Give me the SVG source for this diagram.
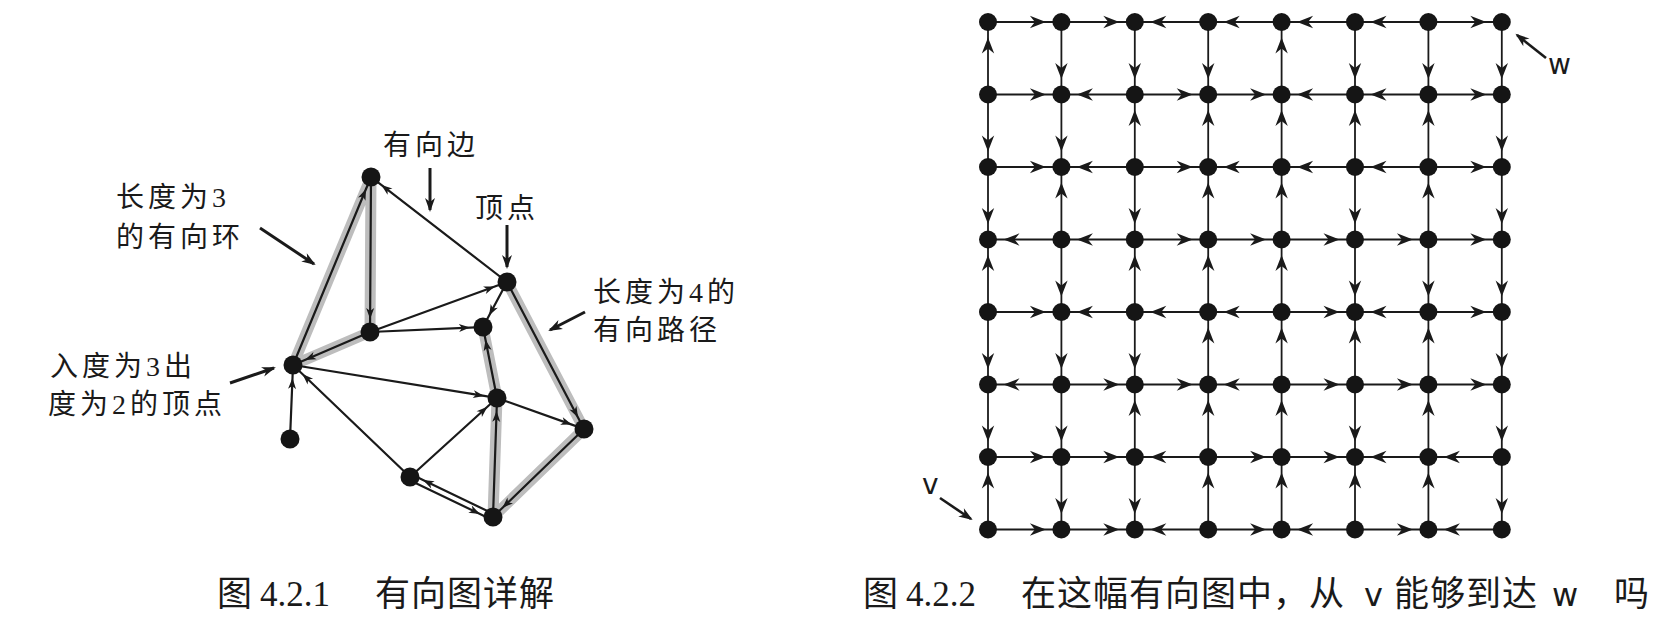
<svg xmlns="http://www.w3.org/2000/svg" width="1668" height="642" viewBox="0 0 1668 642">
<defs>
<marker id="ga" markerUnits="userSpaceOnUse" viewBox="-17 -7 18 14" refX="0" refY="0" markerWidth="18" markerHeight="14" orient="auto"><path d="M0,0 L-16,-6.2 L-11,0 L-16,6.2 Z" fill="#1a1a1a"/></marker>
<marker id="la" markerUnits="userSpaceOnUse" viewBox="-12 -5 13 10" refX="0" refY="0" markerWidth="13" markerHeight="10" orient="auto"><path d="M0,0 L-11,-4 L-8,0 L-11,4 Z" fill="#1a1a1a"/></marker>
<marker id="ta" markerUnits="userSpaceOnUse" viewBox="-15 -6 18 12" refX="0" refY="0" markerWidth="18" markerHeight="12" orient="auto"><path d="M2,0 L-12,-5 L-8,0 L-12,5 Z" fill="#1a1a1a"/></marker>
<style>
.ge{fill:none;stroke:#1a1a1a;stroke-width:1.8;marker-mid:url(#ga)}
.le{fill:none;stroke:#1a1a1a;stroke-width:2.2;marker-mid:url(#la)}
.lab{fill:none;stroke:#1a1a1a;stroke-width:3;marker-end:url(#ta)}
.halo{fill:none;stroke:#bdbdbd;stroke-width:11;stroke-linejoin:round;stroke-linecap:round}
.gn{fill:#151515}
.ln{fill:#151515}
.t{font-family:"Liberation Serif","Noto Sans CJK SC",serif;font-size:28px;fill:#1a1a1a;letter-spacing:4px}
.cap{font-size:35px;letter-spacing:1px}
.s{font-family:"DejaVu Sans",sans-serif;font-size:28px;fill:#1a1a1a;letter-spacing:0}
.sc{font-size:32px}
</style>
</defs>
<rect width="1668" height="642" fill="#ffffff"/>

<!-- Left diagram -->
<g id="highlights">
<path class="halo" d="M293,365 L371,177 L370,332 Z"/>
<path class="halo" d="M507,282 L584,429 L493,517 L497,398 L483,327"/>
</g>
<g id="left-connectors">
<path class="le" d="M293,365 L366,189 L371,177"/>
<path class="le" d="M371,177 L370.1,319 L370,332"/>
<path class="le" d="M370,332 L304.9,359.9 L293,365"/>
<path class="le" d="M507,282 L381.3,184.9 L371,177"/>
<path class="le" d="M370,332 L494.8,286.5 L507,282"/>
<path class="le" d="M370,332 L470,327.6 L483,327"/>
<path class="le" d="M507,282 L489.1,315.5 L483,327"/>
<path class="le" d="M507,282 L578,417.5 L584,429"/>
<path class="le" d="M584,429 L502.3,508 L493,517"/>
<path class="le" d="M493,517 L496.6,411 L497,398"/>
<path class="le" d="M497,398 L485.5,339.8 L483,327"/>
<path class="le" d="M293,365 L484.2,395.9 L497,398"/>
<path class="le" d="M497,398 L571.8,424.6 L584,429"/>
<path class="le" d="M410,477 L302.4,374 L293,365"/>
<path class="le" d="M410,477 L487.4,406.7 L497,398"/>
<path class="le" d="M408.7,479.7 L480,514 L491.7,519.7"/>
<path class="le" d="M494.3,514.3 L423,480 L411.3,474.3"/>
<path class="le" d="M290,439 L292.5,378 L293,365"/>
</g>
<g id="n-A"><circle class="ln" cx="371" cy="177" r="9.5"/></g>
<g id="n-B"><circle class="ln" cx="507" cy="282" r="9.5"/></g>
<g id="n-C"><circle class="ln" cx="370" cy="332" r="9.5"/></g>
<g id="n-D"><circle class="ln" cx="483" cy="327" r="9.5"/></g>
<g id="n-E"><circle class="ln" cx="293" cy="365" r="9.5"/></g>
<g id="n-F"><circle class="ln" cx="290" cy="439" r="9.5"/></g>
<g id="n-G"><circle class="ln" cx="497" cy="398" r="9.5"/></g>
<g id="n-H"><circle class="ln" cx="584" cy="429" r="9.5"/></g>
<g id="n-I"><circle class="ln" cx="410" cy="477" r="9.5"/></g>
<g id="n-J"><circle class="ln" cx="493" cy="517" r="9.5"/></g>

<g id="annotations">
<text class="t" x="383" y="155">有向边</text>
<path class="lab" d="M430,168 L430,210"/>
<text class="t" x="475" y="218">顶点</text>
<path class="lab" d="M507,225 L507,267"/>
<text class="t" x="593" y="302">长度为4的</text>
<text class="t" x="593" y="340">有向路径</text>
<path class="lab" d="M585,312 L550,330"/>
<text class="t" x="116" y="207">长度为3</text>
<text class="t" x="116" y="247">的有向环</text>
<path class="lab" d="M260,228 L314,264"/>
<text class="t" x="50" y="376">入度为3出</text>
<text class="t" x="48" y="414">度为2的顶点</text>
<path class="lab" d="M230,383 L274,368"/>
</g>

<!-- Right grid -->
<g id="grid-connectors">
<path class="ge" d="M988,22h57.9h15.5"/>
<path class="ge" d="M1061.4,22h57.9h15.5"/>
<path class="ge" d="M1208.2,22h-57.9h-15.5"/>
<path class="ge" d="M1281.6,22h-57.9h-15.5"/>
<path class="ge" d="M1355,22h-57.9h-15.5"/>
<path class="ge" d="M1428.4,22h-57.9h-15.5"/>
<path class="ge" d="M1428.4,22h57.9h15.5"/>

<path class="ge" d="M988,94.5h57.9h15.5"/>
<path class="ge" d="M1134.8,94.5h-57.9h-15.5"/>
<path class="ge" d="M1134.8,94.5h57.9h15.5"/>
<path class="ge" d="M1208.2,94.5h57.9h15.5"/>
<path class="ge" d="M1355,94.5h-57.9h-15.5"/>
<path class="ge" d="M1428.4,94.5h-57.9h-15.5"/>
<path class="ge" d="M1428.4,94.5h57.9h15.5"/>

<path class="ge" d="M988,167h57.9h15.5"/>
<path class="ge" d="M1134.8,167h-57.9h-15.5"/>
<path class="ge" d="M1134.8,167h57.9h15.5"/>
<path class="ge" d="M1281.6,167h-57.9h-15.5"/>
<path class="ge" d="M1355,167h-57.9h-15.5"/>
<path class="ge" d="M1428.4,167h-57.9h-15.5"/>
<path class="ge" d="M1428.4,167h57.9h15.5"/>

<path class="ge" d="M1061.4,239.5h-57.9h-15.5"/>
<path class="ge" d="M1134.8,239.5h-57.9h-15.5"/>
<path class="ge" d="M1134.8,239.5h57.9h15.5"/>
<path class="ge" d="M1208.2,239.5h57.9h15.5"/>
<path class="ge" d="M1281.6,239.5h57.9h15.5"/>
<path class="ge" d="M1355,239.5h57.9h15.5"/>
<path class="ge" d="M1428.4,239.5h57.9h15.5"/>

<path class="ge" d="M988,312h57.9h15.5"/>
<path class="ge" d="M1134.8,312h-57.9h-15.5"/>
<path class="ge" d="M1208.2,312h-57.9h-15.5"/>
<path class="ge" d="M1281.6,312h-57.9h-15.5"/>
<path class="ge" d="M1281.6,312h57.9h15.5"/>
<path class="ge" d="M1428.4,312h-57.9h-15.5"/>
<path class="ge" d="M1428.4,312h57.9h15.5"/>

<path class="ge" d="M1061.4,384.5h-57.9h-15.5"/>
<path class="ge" d="M1061.4,384.5h57.9h15.5"/>
<path class="ge" d="M1134.8,384.5h57.9h15.5"/>
<path class="ge" d="M1281.6,384.5h-57.9h-15.5"/>
<path class="ge" d="M1281.6,384.5h57.9h15.5"/>
<path class="ge" d="M1355,384.5h57.9h15.5"/>
<path class="ge" d="M1428.4,384.5h57.9h15.5"/>

<path class="ge" d="M988,457h57.9h15.5"/>
<path class="ge" d="M1061.4,457h57.9h15.5"/>
<path class="ge" d="M1208.2,457h-57.9h-15.5"/>
<path class="ge" d="M1208.2,457h57.9h15.5"/>
<path class="ge" d="M1281.6,457h57.9h15.5"/>
<path class="ge" d="M1428.4,457h-57.9h-15.5"/>
<path class="ge" d="M1501.8,457h-57.9h-15.5"/>

<path class="ge" d="M988,529.5h57.9h15.5"/>
<path class="ge" d="M1061.4,529.5h57.9h15.5"/>
<path class="ge" d="M1208.2,529.5h-57.9h-15.5"/>
<path class="ge" d="M1208.2,529.5h57.9h15.5"/>
<path class="ge" d="M1355,529.5h-57.9h-15.5"/>
<path class="ge" d="M1355,529.5h57.9h15.5"/>
<path class="ge" d="M1501.8,529.5h-57.9h-15.5"/>

<path class="ge" d="M988,94.5v-57v-15.5"/>
<path class="ge" d="M988,94.5v57v15.5"/>
<path class="ge" d="M988,167v57v15.5"/>
<path class="ge" d="M988,312v-57v-15.5"/>
<path class="ge" d="M988,312v57v15.5"/>
<path class="ge" d="M988,384.5v57v15.5"/>
<path class="ge" d="M988,529.5v-57v-15.5"/>

<path class="ge" d="M1061.4,22v57v15.5"/>
<path class="ge" d="M1061.4,94.5v57v15.5"/>
<path class="ge" d="M1061.4,239.5v-57v-15.5"/>
<path class="ge" d="M1061.4,239.5v57v15.5"/>
<path class="ge" d="M1061.4,312v57v15.5"/>
<path class="ge" d="M1061.4,384.5v57v15.5"/>
<path class="ge" d="M1061.4,457v57v15.5"/>

<path class="ge" d="M1134.8,22v57v15.5"/>
<path class="ge" d="M1134.8,167v-57v-15.5"/>
<path class="ge" d="M1134.8,167v57v15.5"/>
<path class="ge" d="M1134.8,312v-57v-15.5"/>
<path class="ge" d="M1134.8,312v57v15.5"/>
<path class="ge" d="M1134.8,457v-57v-15.5"/>
<path class="ge" d="M1134.8,457v57v15.5"/>

<path class="ge" d="M1208.2,22v57v15.5"/>
<path class="ge" d="M1208.2,167v-57v-15.5"/>
<path class="ge" d="M1208.2,239.5v-57v-15.5"/>
<path class="ge" d="M1208.2,312v-57v-15.5"/>
<path class="ge" d="M1208.2,384.5v-57v-15.5"/>
<path class="ge" d="M1208.2,457v-57v-15.5"/>
<path class="ge" d="M1208.2,529.5v-57v-15.5"/>

<path class="ge" d="M1281.6,94.5v-57v-15.5"/>
<path class="ge" d="M1281.6,167v-57v-15.5"/>
<path class="ge" d="M1281.6,239.5v-57v-15.5"/>
<path class="ge" d="M1281.6,312v-57v-15.5"/>
<path class="ge" d="M1281.6,384.5v-57v-15.5"/>
<path class="ge" d="M1281.6,457v-57v-15.5"/>
<path class="ge" d="M1281.6,529.5v-57v-15.5"/>

<path class="ge" d="M1355,22v57v15.5"/>
<path class="ge" d="M1355,167v-57v-15.5"/>
<path class="ge" d="M1355,167v57v15.5"/>
<path class="ge" d="M1355,239.5v57v15.5"/>
<path class="ge" d="M1355,384.5v-57v-15.5"/>
<path class="ge" d="M1355,384.5v57v15.5"/>
<path class="ge" d="M1355,529.5v-57v-15.5"/>

<path class="ge" d="M1428.4,22v57v15.5"/>
<path class="ge" d="M1428.4,167v-57v-15.5"/>
<path class="ge" d="M1428.4,239.5v-57v-15.5"/>
<path class="ge" d="M1428.4,239.5v57v15.5"/>
<path class="ge" d="M1428.4,384.5v-57v-15.5"/>
<path class="ge" d="M1428.4,457v-57v-15.5"/>
<path class="ge" d="M1428.4,529.5v-57v-15.5"/>

<path class="ge" d="M1501.8,22v57v15.5"/>
<path class="ge" d="M1501.8,94.5v57v15.5"/>
<path class="ge" d="M1501.8,167v57v15.5"/>
<path class="ge" d="M1501.8,239.5v57v15.5"/>
<path class="ge" d="M1501.8,312v57v15.5"/>
<path class="ge" d="M1501.8,384.5v57v15.5"/>
<path class="ge" d="M1501.8,457v57v15.5"/>
</g>

<g id="g-r0c0"><circle class="gn" cx="988" cy="22" r="9"/></g>
<g id="g-r0c1"><circle class="gn" cx="1061.4" cy="22" r="9"/></g>
<g id="g-r0c2"><circle class="gn" cx="1134.8" cy="22" r="9"/></g>
<g id="g-r0c3"><circle class="gn" cx="1208.2" cy="22" r="9"/></g>
<g id="g-r0c4"><circle class="gn" cx="1281.6" cy="22" r="9"/></g>
<g id="g-r0c5"><circle class="gn" cx="1355" cy="22" r="9"/></g>
<g id="g-r0c6"><circle class="gn" cx="1428.4" cy="22" r="9"/></g>
<g id="g-r0c7"><circle class="gn" cx="1501.8" cy="22" r="9"/></g>
<g id="g-r1c0"><circle class="gn" cx="988" cy="94.5" r="9"/></g>
<g id="g-r1c1"><circle class="gn" cx="1061.4" cy="94.5" r="9"/></g>
<g id="g-r1c2"><circle class="gn" cx="1134.8" cy="94.5" r="9"/></g>
<g id="g-r1c3"><circle class="gn" cx="1208.2" cy="94.5" r="9"/></g>
<g id="g-r1c4"><circle class="gn" cx="1281.6" cy="94.5" r="9"/></g>
<g id="g-r1c5"><circle class="gn" cx="1355" cy="94.5" r="9"/></g>
<g id="g-r1c6"><circle class="gn" cx="1428.4" cy="94.5" r="9"/></g>
<g id="g-r1c7"><circle class="gn" cx="1501.8" cy="94.5" r="9"/></g>
<g id="g-r2c0"><circle class="gn" cx="988" cy="167" r="9"/></g>
<g id="g-r2c1"><circle class="gn" cx="1061.4" cy="167" r="9"/></g>
<g id="g-r2c2"><circle class="gn" cx="1134.8" cy="167" r="9"/></g>
<g id="g-r2c3"><circle class="gn" cx="1208.2" cy="167" r="9"/></g>
<g id="g-r2c4"><circle class="gn" cx="1281.6" cy="167" r="9"/></g>
<g id="g-r2c5"><circle class="gn" cx="1355" cy="167" r="9"/></g>
<g id="g-r2c6"><circle class="gn" cx="1428.4" cy="167" r="9"/></g>
<g id="g-r2c7"><circle class="gn" cx="1501.8" cy="167" r="9"/></g>
<g id="g-r3c0"><circle class="gn" cx="988" cy="239.5" r="9"/></g>
<g id="g-r3c1"><circle class="gn" cx="1061.4" cy="239.5" r="9"/></g>
<g id="g-r3c2"><circle class="gn" cx="1134.8" cy="239.5" r="9"/></g>
<g id="g-r3c3"><circle class="gn" cx="1208.2" cy="239.5" r="9"/></g>
<g id="g-r3c4"><circle class="gn" cx="1281.6" cy="239.5" r="9"/></g>
<g id="g-r3c5"><circle class="gn" cx="1355" cy="239.5" r="9"/></g>
<g id="g-r3c6"><circle class="gn" cx="1428.4" cy="239.5" r="9"/></g>
<g id="g-r3c7"><circle class="gn" cx="1501.8" cy="239.5" r="9"/></g>
<g id="g-r4c0"><circle class="gn" cx="988" cy="312" r="9"/></g>
<g id="g-r4c1"><circle class="gn" cx="1061.4" cy="312" r="9"/></g>
<g id="g-r4c2"><circle class="gn" cx="1134.8" cy="312" r="9"/></g>
<g id="g-r4c3"><circle class="gn" cx="1208.2" cy="312" r="9"/></g>
<g id="g-r4c4"><circle class="gn" cx="1281.6" cy="312" r="9"/></g>
<g id="g-r4c5"><circle class="gn" cx="1355" cy="312" r="9"/></g>
<g id="g-r4c6"><circle class="gn" cx="1428.4" cy="312" r="9"/></g>
<g id="g-r4c7"><circle class="gn" cx="1501.8" cy="312" r="9"/></g>
<g id="g-r5c0"><circle class="gn" cx="988" cy="384.5" r="9"/></g>
<g id="g-r5c1"><circle class="gn" cx="1061.4" cy="384.5" r="9"/></g>
<g id="g-r5c2"><circle class="gn" cx="1134.8" cy="384.5" r="9"/></g>
<g id="g-r5c3"><circle class="gn" cx="1208.2" cy="384.5" r="9"/></g>
<g id="g-r5c4"><circle class="gn" cx="1281.6" cy="384.5" r="9"/></g>
<g id="g-r5c5"><circle class="gn" cx="1355" cy="384.5" r="9"/></g>
<g id="g-r5c6"><circle class="gn" cx="1428.4" cy="384.5" r="9"/></g>
<g id="g-r5c7"><circle class="gn" cx="1501.8" cy="384.5" r="9"/></g>
<g id="g-r6c0"><circle class="gn" cx="988" cy="457" r="9"/></g>
<g id="g-r6c1"><circle class="gn" cx="1061.4" cy="457" r="9"/></g>
<g id="g-r6c2"><circle class="gn" cx="1134.8" cy="457" r="9"/></g>
<g id="g-r6c3"><circle class="gn" cx="1208.2" cy="457" r="9"/></g>
<g id="g-r6c4"><circle class="gn" cx="1281.6" cy="457" r="9"/></g>
<g id="g-r6c5"><circle class="gn" cx="1355" cy="457" r="9"/></g>
<g id="g-r6c6"><circle class="gn" cx="1428.4" cy="457" r="9"/></g>
<g id="g-r6c7"><circle class="gn" cx="1501.8" cy="457" r="9"/></g>
<g id="g-r7c0"><circle class="gn" cx="988" cy="529.5" r="9"/></g>
<g id="g-r7c1"><circle class="gn" cx="1061.4" cy="529.5" r="9"/></g>
<g id="g-r7c2"><circle class="gn" cx="1134.8" cy="529.5" r="9"/></g>
<g id="g-r7c3"><circle class="gn" cx="1208.2" cy="529.5" r="9"/></g>
<g id="g-r7c4"><circle class="gn" cx="1281.6" cy="529.5" r="9"/></g>
<g id="g-r7c5"><circle class="gn" cx="1355" cy="529.5" r="9"/></g>
<g id="g-r7c6"><circle class="gn" cx="1428.4" cy="529.5" r="9"/></g>
<g id="g-r7c7"><circle class="gn" cx="1501.8" cy="529.5" r="9"/></g>

<g id="grid-labels">
<text class="s" x="922" y="494">v</text>
<path class="lab" style="stroke-width:2.6" d="M940,498 L971,519"/>
<text class="s" x="1548" y="74">w</text>
<path class="lab" style="stroke-width:2.6" d="M1546,58 L1517,35"/>
</g>

<g id="captions">
<text class="t cap" y="606"><tspan x="217">图</tspan><tspan x="260" style="letter-spacing:0">4.2.1</tspan><tspan x="375">有向图详解</tspan></text>
<text class="t cap" y="606"><tspan x="863">图</tspan><tspan x="906" style="letter-spacing:0">4.2.2</tspan><tspan x="1021">在这幅有向图中，从</tspan><tspan x="1364" class="s sc">v</tspan><tspan x="1394">能够到达</tspan><tspan x="1552" class="s sc">w</tspan><tspan x="1614">吗</tspan></text>
</g>
</svg>
